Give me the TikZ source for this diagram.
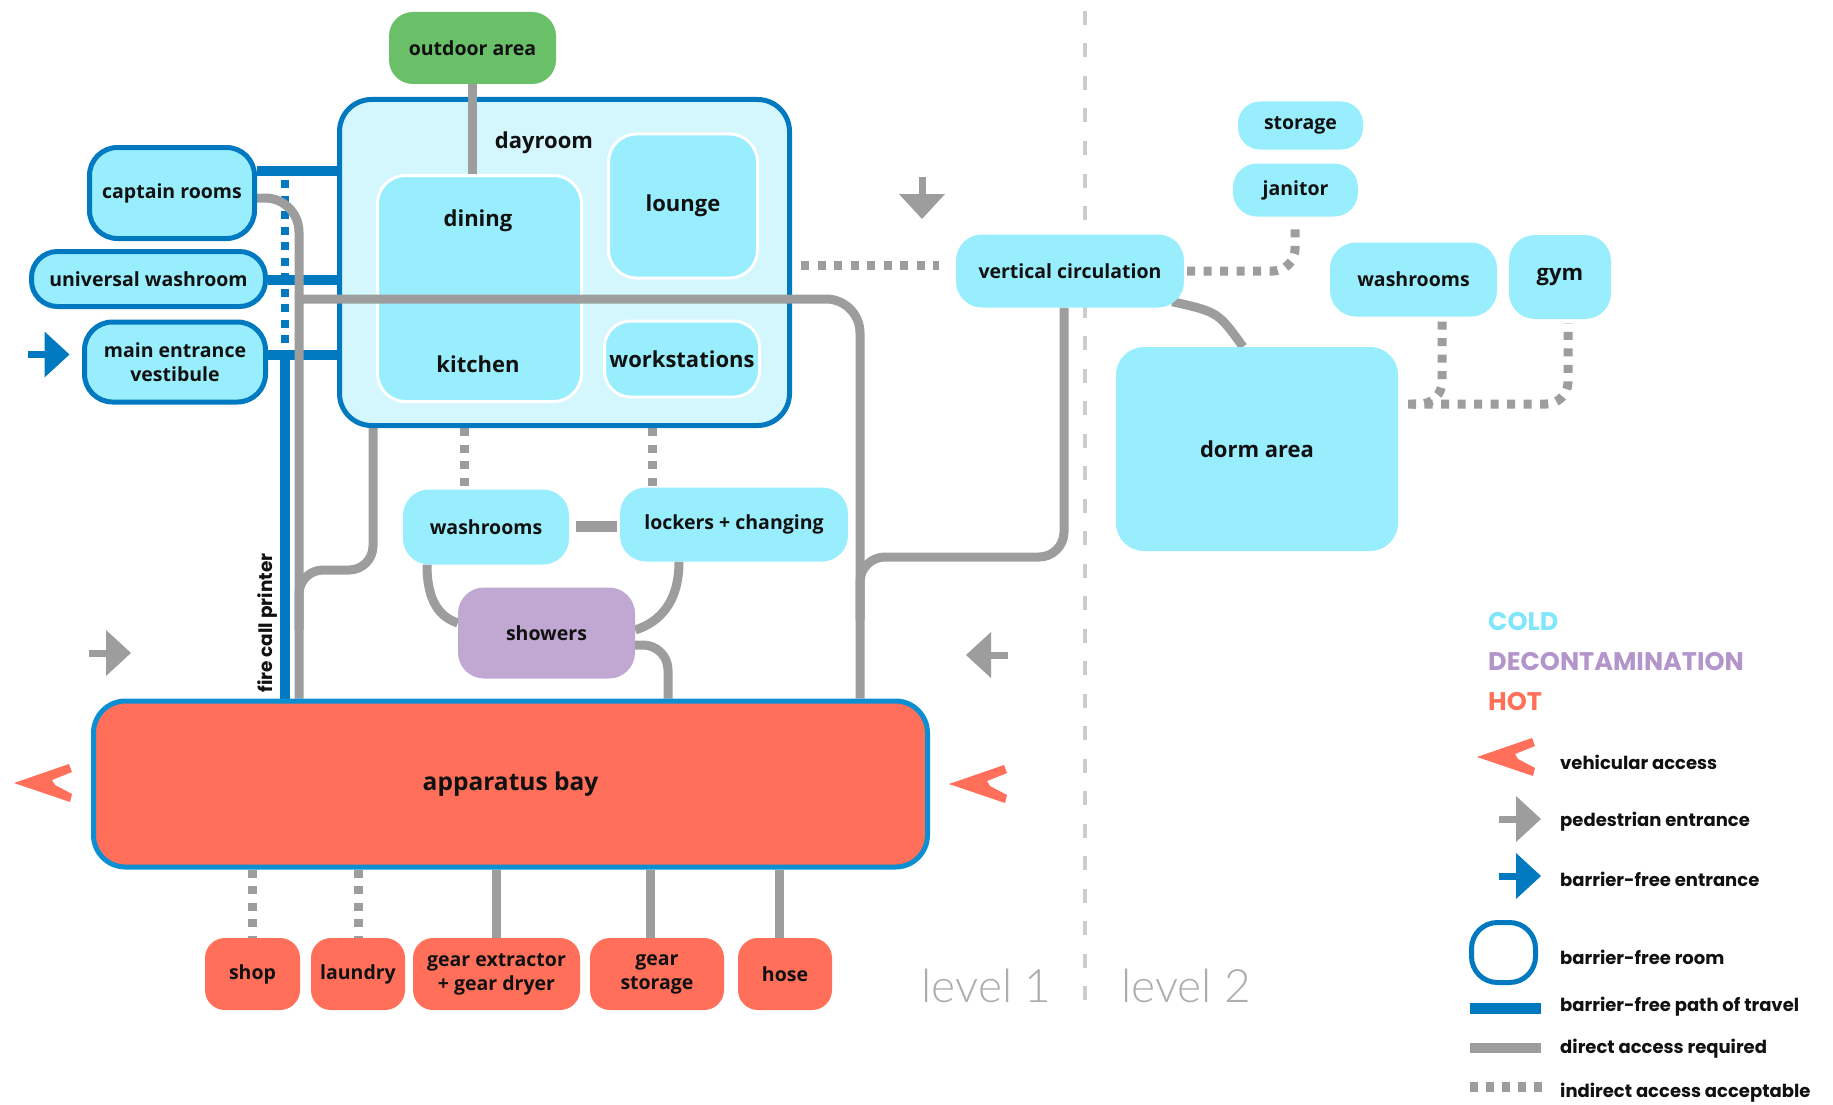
\documentclass[tikz,border=0pt]{standalone}
\usepackage{fontspec}
\setmainfont{Open Sans}
\newfontfamily\legfont{Poppins}
\newfontfamily\thinfont{Lato Light}
\pgfdeclarelayer{bg}
\pgfdeclarelayer{fg}
\pgfsetlayers{bg,main,fg}
\definecolor{cold}{HTML}{99EEFD}
\definecolor{dayfill}{HTML}{D3F7FD}
\definecolor{bfblue}{HTML}{0079C1}
\definecolor{baybl}{HTML}{0C8ED2}
\definecolor{cgray}{HTML}{9D9D9D}
\definecolor{outgreen}{HTML}{6ABF69}
\definecolor{hot}{HTML}{FF6F59}
\definecolor{decon}{HTML}{C0A8D3}
\definecolor{coldtxt}{HTML}{7FE6FB}
\definecolor{decontxt}{HTML}{B394CB}
\definecolor{divgray}{HTML}{CCCCCC}
\definecolor{lvlgray}{HTML}{ADADAD}
\definecolor{ink}{HTML}{111111}
\newcommand\fsb{\bfseries\fontsize{19.5}{24}\selectfont}
\newcommand\fsc{\bfseries\fontsize{22}{26}\selectfont}
\newcommand\fsd{\bfseries\fontsize{24.5}{28}\selectfont}
\newcommand\fleg{\legfont\bfseries\fontsize{18}{21}\selectfont}
\newcommand\flegt{\legfont\bfseries\fontsize{25.5}{28}\selectfont}
\newcommand\flvl{\thinfont\fontsize{46}{50}\selectfont}
\begin{document}
\begin{tikzpicture}[x=1pt,y=-1pt,
  room/.style={rectangle, rounded corners=26pt, fill=cold, text=ink, inner sep=0pt, align=center, font=\fsb},
  bfroom/.style={room, draw=bfblue, line width=5pt},
  inroom/.style={room, draw=white, line width=3pt, font=\fsc},
  hotroom/.style={room, fill=hot, rounded corners=20pt, minimum height=72pt},
  conn/.style={draw=cgray, line width=9pt},
  ind/.style={draw=cgray, line width=9pt, dash pattern=on 8pt off 8.5pt},
  bfpath/.style={draw=bfblue, line width=10pt},
  bfdot/.style={draw=bfblue, line width=8.5pt, dash pattern=on 8pt off 7.5pt},
  lbl/.style={text=ink, inner sep=0pt},
  legtxt/.style={text=ink, inner sep=0pt, anchor=west, font=\fleg},
  legtitle/.style={inner sep=0pt, anchor=west, font=\flegt},
  pedarrow/.pic={\fill (-21,-3.5) rectangle (-3,3.5); \fill (-4,-23) -- (21,0) -- (-4,23) -- cycle;},
  veharrow/.pic={\fill (0,0) -- (55,-19) -- (58,-11) -- (38,-3) -- (41,2) -- (58,11) -- (56,19) -- cycle;}
]
\useasboundingbox (0,0) rectangle (1833,1105);

% ---------- nodes ----------
\node[room, fill=outgreen, minimum width=167pt, minimum height=72pt, rounded corners=24pt] (out) at (472.5,48) {outdoor area};
\node[bfroom, fill=dayfill, minimum width=450pt, minimum height=326pt, rounded corners=32pt] (day) at (564.5,262.5) {};
\node[lbl, font=\fsc] (daylbl) at (544,143) {dayroom};
\node[inroom, minimum width=204pt, minimum height=226pt, rounded corners=28pt] (dk) at (479.5,288.5) {};
\node[lbl, font=\fsc] (dining) at (478,221) {dining};
\node[lbl, font=\fsc] (kitchen) at (478,364) {kitchen};
\node[inroom, minimum width=149pt, minimum height=144pt, rounded corners=28pt] (lounge) at (683,206) {lounge};
\node[inroom, minimum width=155pt, minimum height=76pt, rounded corners=26pt] (work) at (682,359) {workstations};
\node[bfroom, minimum width=165pt, minimum height=91pt, rounded corners=28pt] (cap) at (172,193) {captain rooms};
\node[bfroom, minimum width=234pt, minimum height=55pt, rounded corners=26pt] (uw) at (148.5,279) {universal washroom};
\node[bfroom, minimum width=181pt, minimum height=80pt, rounded corners=28pt] (me) at (175,362) {main entrance\\vestibule};
\node[room, minimum width=166pt, minimum height=75pt] (wc) at (486,527) {washrooms};
\node[room, minimum width=228pt, minimum height=74pt] (lk) at (734,524.5) {lockers + changing};
\node[room, fill=decon, minimum width=177pt, minimum height=91pt] (sh) at (546.5,633) {showers};
\node[bfroom, draw=baybl, fill=hot, minimum width=834pt, minimum height=166pt, rounded corners=32pt, font=\fsd] (bay) at (510.5,784) {apparatus bay};
\node[hotroom, minimum width=95pt] (shop) at (252.5,974) {shop};
\node[hotroom, minimum width=94pt] (laundry) at (358,974) {laundry};
\node[hotroom, minimum width=167pt] (gear) at (496.5,974) {gear extractor\\+ gear dryer};
\node[hotroom, minimum width=134pt] (gstore) at (657,974) {gear\\storage};
\node[hotroom, minimum width=94pt] (hose) at (785,974) {hose};
\node[room, minimum width=228pt, minimum height=73pt] (vc) at (1070,271) {vertical circulation};
\node[room, minimum width=125pt, minimum height=48pt, rounded corners=22pt] (storage) at (1300.5,125.5) {storage};
\node[room, minimum width=125pt, minimum height=53pt, rounded corners=24pt] (janitor) at (1295.5,190) {janitor};
\node[room, minimum width=167pt, minimum height=74pt] (wr2) at (1413.5,279.5) {washrooms};
\node[room, minimum width=102pt, minimum height=84pt, font=\fsc] (gym) at (1560,277) {gym};
\node[room, minimum width=282pt, minimum height=204pt, rounded corners=28pt, font=\fsc] (dorm) at (1257,449) {dorm area};

\node[lbl, rotate=90, font=\legfont\bfseries\fontsize{18.5}{18.5}\selectfont] (fcp) at (268,623) {fire call printer};
\node[lbl, text=lvlgray, font=\flvl] (lv1) at (986.5,986) {level 1};
\node[lbl, text=lvlgray, font=\flvl] (lv2) at (1186,986) {level 2};

% helper coordinates
\coordinate (yA) at (0,171);
\coordinate (yB) at (0,280);
\coordinate (yC) at (0,355);
\coordinate (yD) at (0,180);
\coordinate (yE) at (0,348);
\coordinate (xBl) at (285,0);
\coordinate (yG) at (0,198);
\coordinate (xG) at (299,0);
\coordinate (xG2) at (373,0);
\coordinate (yG3) at (0,570);
\coordinate (yG4) at (0,630);
\coordinate (yH) at (0,299);
\coordinate (xR) at (860,0);
\coordinate (xV) at (1064,0);
\coordinate (yJ) at (0,557);
\coordinate (yK) at (0,620);
\coordinate (yW) at (0,526);
\coordinate (xS1) at (427,0);
\coordinate (yS1) at (0,623);
\coordinate (xS2) at (679,0);
\coordinate (yS2) at (0,630);
\coordinate (yS3) at (0,645);
\coordinate (xS3) at (668,0);
\coordinate (yI) at (0,265);
\coordinate (xD1) at (464,0);
\coordinate (xD2) at (652,0);
\coordinate (xGS) at (650,0);
\coordinate (xHo) at (779,0);
\coordinate (yV2) at (0,271);
\coordinate (xJ) at (1295,0);
\coordinate (yDm) at (0,404);
\coordinate (xGy) at (1568,0);
\coordinate (xW2) at (1442,0);
\coordinate (xW3) at (1412,0);
\coordinate (xDo) at (1243,0);

% ---------- connectors ----------
\begin{pgfonlayer}{bg}
\fill[white] (0,0) rectangle (1833,1105);
\draw[divgray, line width=4.5pt, dash pattern=on 14pt off 18.5pt] (1085,11) -- (1085,1006);
% barrier-free paths
\draw[bfpath] (cap.east |- yA) -- (day.west |- yA);
\draw[bfpath] (uw.east |- yB) -- (day.west |- yB);
\draw[bfpath] (me.east |- yC) -- (day.west |- yC);
\draw[bfpath] (xBl |- yC) -- (xBl |- bay.north);
\draw[bfdot] (xBl |- yD) -- (xBl |- yE);
% direct access
\draw[conn, rounded corners=34pt] (cap.east |- yG) -- (xG |- yG) -- (xG |- bay.north);
\draw[conn, rounded corners=24pt] (day.south -| xG2) -- (xG2 |- yG3) -- (xG |- yG3) -- (xG |- yG4);
\draw[conn, rounded corners=25pt] (vc.south -| xV) -- (xV |- yJ) -- (xR |- yJ) -- (xR |- yK);
\draw[conn, line width=11pt, shorten <=7pt, shorten >=3pt] (wc.east |- yW) -- (lk.west |- yW);
\draw[conn] (wc.south -| xS1) .. controls (427,602) and (440,617) .. (sh.west |- yS1);
\draw[conn] (lk.south -| xS2) .. controls (679,602) and (660,622) .. (sh.east |- yS2);
\draw[conn, rounded corners=25pt] (sh.east |- yS3) -- (xS3 |- yS3) -- (xS3 |- bay.north);
\draw[conn] (vc.south east) ++(-12,-6) .. controls (1218,312) .. (dorm.north -| xDo);
\draw[conn] (bay.south -| gear.north) -- (gear.north);
\draw[conn] (bay.south -| xGS) -- (gstore.north -| xGS);
\draw[conn] (bay.south -| xHo) -- (hose.north -| xHo);
% indirect access
\draw[ind, shorten <=9pt, shorten >=17pt] (day.east |- yI) -- (vc.west |- yI);
\draw[ind] (day.south -| xD1) -- (wc.north -| xD1);
\draw[ind] (day.south -| xD2) -- (lk.north -| xD2);
\draw[ind] (bay.south -| shop.north) -- (shop.north);
\draw[ind] (bay.south -| laundry.north) -- (laundry.north);
\draw[ind, rounded corners=22pt, shorten <=3pt, shorten >=6pt] (vc.east |- yV2) -- (xJ |- yV2) -- (janitor.south -| xJ);
\draw[ind, rounded corners=22pt, shorten <=10pt, shorten >=4pt] (dorm.east |- yDm) -- (xGy |- yDm) -- (gym.south -| xGy);
\draw[ind, rounded corners=22pt, shorten <=5pt] (wr2.south -| xW2) -- (xW2 |- yDm) -- (xW3 |- yDm);
\end{pgfonlayer}

\begin{pgfonlayer}{fg}
\draw[conn] (out.south) -- (out.south |- dk.north);
\draw[conn, rounded corners=34pt] (xG |- yH) -- (xR |- yH) -- (xR |- bay.north);
\end{pgfonlayer}

% ---------- entrance arrows ----------
\pic[bfblue] at (48.5,354.5) {pedarrow};
\pic[cgray] at (110,653) {pedarrow};
\pic[cgray, rotate=180] at (987,655) {pedarrow};
\pic[cgray, rotate=-90] at (922,198) {pedarrow};
\pic[hot] at (14,783) {veharrow};
\pic[hot] at (949,784) {veharrow};

% ---------- legend ----------
\node[legtitle, text=coldtxt] (lcold) at (1488,622) {COLD};
\node[legtitle, text=decontxt] (ldecon) at (1488,662) {DECONTAMINATION};
\node[legtitle, text=hot] (lhot) at (1488,702) {HOT};
\pic[hot] at (1477,757) {veharrow};
\node[legtxt] (l1) at (1560,762) {vehicular access};
\pic[cgray] at (1520,819) {pedarrow};
\node[legtxt] (l2) at (1560,822) {pedestrian entrance};
\pic[bfblue] at (1520,876) {pedarrow};
\node[legtxt] (l3) at (1560,879) {barrier-free entrance};
\draw[bfblue, line width=5pt, rounded corners=26pt] (1471.5,922.5) rectangle (1535.5,982.5);
\node[legtxt] (l4) at (1560,957) {barrier-free room};
\fill[bfblue] (1470,1003) rectangle (1541,1014);
\node[legtxt] (l5) at (1560,1007) {barrier-free path of travel};
\fill[cgray] (1470,1043) rectangle (1541,1053);
\node[legtxt] (l6) at (1560,1049) {direct access required};
\draw[cgray, line width=10pt, dash pattern=on 8pt off 8pt] (1470,1087) -- (1542,1087);
\node[legtxt] (l7) at (1560,1093) {indirect access acceptable};
\end{tikzpicture}
\end{document}
